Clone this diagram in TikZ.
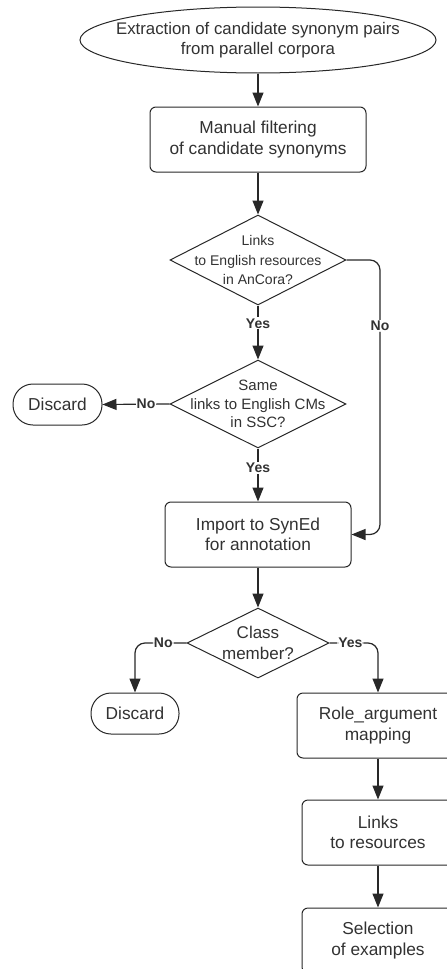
\documentclass[tikz,border=0pt]{standalone}
\usepackage{fontspec}
\setmainfont{Liberation Sans}
\usetikzlibrary{shapes.geometric,arrows.meta}
\definecolor{ln}{RGB}{40,40,40}
\definecolor{tx}{RGB}{50,50,50}
\tikzset{
  base/.style={draw=ln, line width=1pt, text=tx, align=center, inner sep=0pt,
    font=\fontsize{17.3}{20.5}\selectfont},
  term/.style={base, ellipse, minimum width=356pt, minimum height=66pt},
  proc/.style={base, rectangle, rounded corners=6pt, minimum height=65pt},
  disc/.style={base, rectangle, rounded corners=20pt, minimum height=41pt},
  dia/.style={base, diamond, inner sep=0pt},
  txt/.style={text=tx, align=center, inner sep=0pt},
  arr/.style={draw=ln, line width=1.2pt, -{Triangle[length=14pt,width=11pt]}},
  lbl/.style={fill=white, text=tx, inner sep=1pt, font=\fontsize{14}{15}\bfseries\selectfont},
}
\begin{document}
\begin{tikzpicture}[x=1pt,y=-1pt]
\useasboundingbox (0,0) rectangle (447,969);
\fill[white] (0,0) rectangle (447,969);

\node[term] (t) at (258,40) {};
\node[txt, font=\fontsize{16.8}{20}\selectfont] at (t) {Extraction of candidate synonym pairs\\from parallel corpora};
\node[proc, minimum width=216pt] (b1) at (258,139.5) {Manual filtering\\of candidate synonyms};
\node[dia, minimum width=176pt, minimum height=90pt] (d1) at (258,260) {};
\node[txt, font=\fontsize{14}{19.5}\selectfont] at (d1) {Links\\to English resources\\in AnCora?};
\node[dia, minimum width=176pt, minimum height=88pt] (d2) at (258,404) {};
\node[txt, font=\fontsize{15}{18.5}\selectfont] at (d2) {Same\\links to English CMs\\in SSC?};
\node[disc, minimum width=89pt] (x1) at (57.5,404.5) {Discard};
\node[proc, minimum width=186pt] (b2) at (258,534.5) {Import to SynEd\\for annotation};
\node[dia, minimum width=142pt, minimum height=70pt] (d3) at (258,643) {};
\node[txt, font=\fontsize{17}{20.5}\selectfont] at (d3) {Class\\member?};
\node[disc, minimum width=88pt] (x2) at (135,713.5) {Discard};
\node[proc, minimum width=162pt] (b3) at (378,725.5) {Role\_argument\\mapping};
\node[proc, minimum width=152pt] (b4) at (378,832.5) {Links\\to resources};
\node[proc, minimum width=152pt] (b5) at (378,940.5) {Selection\\of examples};

\coordinate (nr) at (380,0);
\coordinate (cl) at (135,0);
\coordinate (cr) at (378,0);

\draw[arr] (t) -- (b1);
\draw[arr] (b1) -- (d1.north);
\draw[arr] (d1.south) -- node[lbl, pos=0.33] {Yes} (d2.north);
\draw[arr] (d2.west) -- node[lbl, pos=0.35] {No} (x1.east);
\draw[arr] (d2.south) -- node[lbl, pos=0.37] {Yes} (b2.north);
\draw[arr, rounded corners=10pt] (d1.east) -- (d1.east -| nr) -- node[lbl, pos=0.24] {No} (b2.east -| nr) -- (b2.east);
\draw[arr] (b2) -- (d3.north);
\draw[arr, rounded corners=10pt] (d3.west) -- node[lbl, pos=0.45] {No} (d3.west -| cl) -- (x2.north);
\draw[arr, rounded corners=10pt] (d3.east) -- node[lbl, pos=0.43] {Yes} (d3.east -| cr) -- (b3.north);
\draw[arr] (b3) -- (b4);
\draw[arr] (b4) -- (b5);
\end{tikzpicture}
\end{document}
